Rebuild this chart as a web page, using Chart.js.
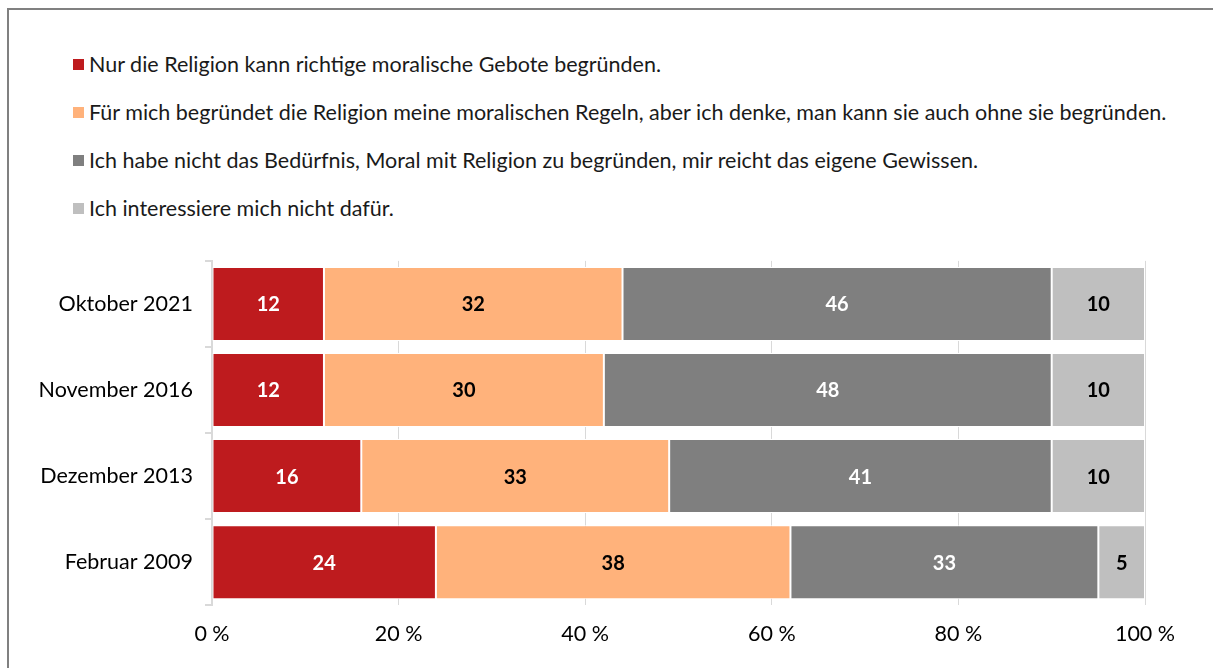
<!DOCTYPE html>
<html>
<head>
<meta charset="utf-8">
<script src="https://cdn.jsdelivr.net/npm/chart.js@4"></script>
<style>
  body { margin: 0; background: #fff; font-family: Lato, sans-serif; overflow: hidden; }
  #frame { position: absolute; left: 7px; top: 8px; width: 1210px; height: 680px; border: 2px solid #808080; box-sizing: border-box; }
  #legend { position: absolute; left: 73px; top: 50px; }
  .item { height: 48px; display: flex; align-items: flex-start; font-size: 21.5px; color: #1a1a1a; line-height: 28px; }
  .box { width: 11px; height: 11px; margin-right: 5px; margin-top: 9px; flex: none; }
  #chart { position: absolute; left: 0; top: 236px; }
</style>
</head>
<body>
<div id="frame"></div>
<div id="legend"></div>
<canvas id="chart" width="1213" height="428"></canvas>
<script>
const categories = ['Oktober 2021', 'November 2016', 'Dezember 2013', 'Februar 2009'];
const seriesNames = [
  'Nur die Religion kann richtige moralische Gebote begründen.',
  'Für mich begründet die Religion meine moralischen Regeln, aber ich denke, man kann sie auch ohne sie begründen.',
  'Ich habe nicht das Bedürfnis, Moral mit Religion zu begründen, mir reicht das eigene Gewissen.',
  'Ich interessiere mich nicht dafür.'
];
const onlyReligion = [12, 12, 16, 24];
const religionButAlsoWithout = [32, 30, 33, 38];
const ownConscience = [46, 48, 41, 33];
const notInterested = [10, 10, 10, 5];
const xTicks = ['0 %', '20 %', '40 %', '60 %', '80 %', '100 %'];

const colors = ['#be1b1e', '#ffb27b', '#7f7f7f', '#bfbfbf'];
const labelColors = ['#ffffff', '#000000', '#ffffff', '#000000'];
const values = [onlyReligion, religionButAlsoWithout, ownConscience, notInterested];

// legend as html, one entry per row
const legend = document.getElementById('legend');
seriesNames.forEach((name, i) => {
  const row = document.createElement('div');
  row.className = 'item';
  row.innerHTML = '<span class="box" style="background:' + colors[i] + '"></span><span>' + name + '</span>';
  legend.appendChild(row);
});

const barLabels = {
  id: 'barLabels',
  afterDatasetsDraw(chart) {
    const ctx = chart.ctx;
    ctx.save();
    ctx.font = 'bold 20px Lato';
    ctx.textAlign = 'center';
    ctx.textBaseline = 'middle';
    chart.data.datasets.forEach((ds, i) => {
      chart.getDatasetMeta(i).data.forEach((bar, j) => {
        const p = bar.getProps(['x', 'base', 'y'], true);
        ctx.fillStyle = labelColors[i];
        ctx.fillText(ds.data[j], (p.x + p.base) / 2, p.y + 1);
      });
    });
    ctx.restore();
  }
};

new Chart(document.getElementById('chart'), {
  type: 'bar',
  data: {
    labels: categories,
    datasets: values.map((v, i) => ({
      label: seriesNames[i],
      data: v,
      backgroundColor: colors[i],
      borderColor: '#ffffff',
      borderWidth: 1,
      borderSkipped: false,
      barPercentage: 0.86,
      categoryPercentage: 1
    }))
  },
  plugins: [barLabels],
  options: {
    indexAxis: 'y',
    responsive: false,
    animation: false,
    layout: { padding: { left: 0, right: 68, top: 19, bottom: 1 } },
    plugins: { legend: { display: false }, tooltip: { enabled: false } },
    scales: {
      x: {
        stacked: true,
        min: 0,
        max: 100,
        ticks: {
          stepSize: 20,
          padding: 16,
          color: '#000',
          font: { family: 'Lato', size: 21.5 },
          callback: (v, i) => xTicks[i]
        },
        grid: { color: '#d9d9d9', drawTicks: false },
        border: { display: false }
      },
      y: {
        stacked: true,
        afterFit: (s) => { s.width = 212; },
        ticks: { padding: 12, color: '#000', font: { family: 'Lato', size: 21.5 } },
        grid: { offset: true, drawOnChartArea: false, tickLength: 7, color: '#d9d9d9', lineWidth: 2 },
        border: { color: '#d9d9d9', width: 2 }
      }
    }
  }
});
</script>
</body>
</html>
